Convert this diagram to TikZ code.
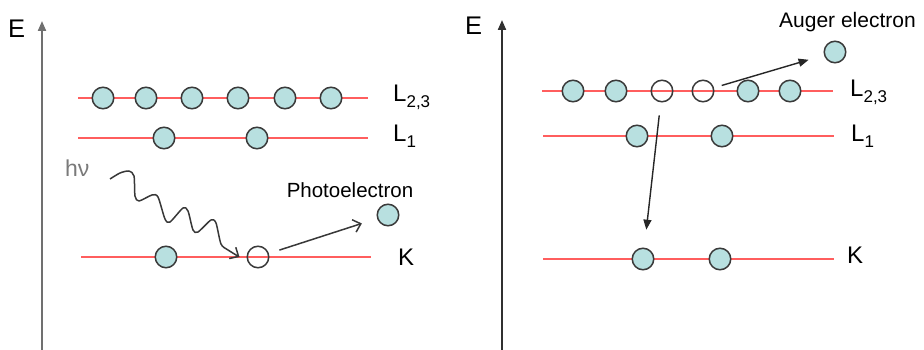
\documentclass[tikz,border=0pt]{standalone}
\usepackage{fontspec}
\setmainfont{Liberation Sans}
\usetikzlibrary{arrows.meta}
\definecolor{elec}{HTML}{B8E0E0}
\definecolor{lvl}{HTML}{FF5E5E}
\definecolor{rim}{HTML}{3A3A3A}
\definecolor{axl}{HTML}{707070}
\definecolor{axr}{HTML}{303030}
\definecolor{arrg}{HTML}{383838}
\definecolor{hvg}{HTML}{7A7A7A}
\begin{document}
\begin{tikzpicture}[x=1pt,y=-1pt,
  level/.style={draw=lvl, line width=1.9pt},
  electron/.style={circle, draw=rim, fill=elec, line width=1.5pt, minimum size=21.5pt, inner sep=0pt},
  hole/.style={circle, draw=rim, line width=1.5pt, minimum size=21.5pt, inner sep=0pt},
  axisline/.style={line width=2pt, -{Triangle[length=10pt,width=8pt]}},
  biglbl/.style={inner sep=0pt, anchor=base west, font=\fontsize{24}{28}\selectfont},
  smalllbl/.style={inner sep=0pt, font=\fontsize{20.5}{24}\selectfont},
  openarrow/.style={draw=arrg, line width=1.5pt, line join=round, -{Straight Barb[length=7pt,width=13pt,line width=1.5pt]}},
  solidarrow/.style={draw=black!85, line width=1.4pt, -{Triangle[length=10pt,width=8pt]}}
]
\newcommand{\sublbl}[2]{#1\raisebox{-0.25em}{\fontsize{17}{17}\selectfont #2}}
\useasboundingbox (0,0) rectangle (924,350);
\fill[white] (0,0) rectangle (924,350);

% ---------------- Left panel ----------------
\coordinate (axlb) at (42,352);
\coordinate (axlt) at (42,21);
\draw[axisline, draw=axl] (axlb) -- (axlt);
\node[biglbl, font=\fontsize{25.5}{28}\selectfont] (El) at (8,38) {E};

\coordinate (la1) at (78,98);  \coordinate (la2) at (368,98);
\coordinate (lb1) at (78,138); \coordinate (lb2) at (368,138);
\coordinate (lc1) at (81,257); \coordinate (lc2) at (371,257);
\draw[level] (la1) -- (la2);
\draw[level] (lb1) -- (lb2);
\draw[level] (lc1) -- (lc2);

\foreach \x [count=\i] in {103,146,192,238,285,331}
  \node[electron] (a\i) at (\x,98) {};
\node[electron] (b1) at (164,138) {};
\node[electron] (b2) at (257,138) {};
\node[electron] (c1) at (166,257) {};
\node[hole] (khole) at (258,257) {};

\node[biglbl] (L23l) at (393,102) {\sublbl{L}{2,3}};
\node[biglbl] (L1l) at (393,142) {\sublbl{L}{1}};
\node[biglbl] (Kl) at (398,265) {K};

\node[inner sep=0pt, anchor=base west, text=hvg, font=\fontsize{23}{26}\selectfont] (hv) at (65,177) {hν};
\coordinate (hvs) at (110,179);
\draw[openarrow] plot[smooth, tension=0.45] coordinates {
  (hvs) (120,173) (129,171) (134,176) (135,196) (139,201) (152,195) (158,197)
  (165,219) (170,222) (183,208) (188,211) (193,230) (198,232) (211,220)
  (216,223) (221,244) (228,250) ([xshift=-7pt]khole.west)};

\node[smalllbl, anchor=base] (pelbl) at (350,197) {Photoelectron};
\node[electron] (pe) at (388,215) {};
\draw[openarrow, shorten <=11pt, shorten >=16pt] (khole) -- (pe);

% ---------------- Right panel ----------------
\coordinate (axrb) at (502,352);
\coordinate (axrt) at (502,20);
\draw[axisline, draw=axr] (axrb) -- (axrt);
\node[biglbl, font=\fontsize{25.5}{28}\selectfont] (Er) at (465,35) {E};

\coordinate (ra1) at (542,91);  \coordinate (ra2) at (833,91);
\coordinate (rb1) at (543,136); \coordinate (rb2) at (834,136);
\coordinate (rc1) at (543,259); \coordinate (rc2) at (834,259);
\draw[level] (ra1) -- (ra2);
\draw[level] (rb1) -- (rb2);
\draw[level] (rc1) -- (rc2);

\node[electron] (ra-1) at (573,91) {};
\node[electron] (ra-2) at (616,91) {};
\node[hole] (h1) at (662,91) {};
\node[hole] (h2) at (703,91) {};
\node[electron] (ra-5) at (748,91) {};
\node[electron] (ra-6) at (790,91) {};
\node[electron] (rb-1) at (637,136) {};
\node[electron] (rb-2) at (722,136) {};
\node[electron] (rc-1) at (643,259) {};
\node[electron] (rc-2) at (720,259) {};

\node[biglbl] (L23r) at (850,97) {\sublbl{L}{2,3}};
\node[biglbl] (L1r) at (851,142) {\sublbl{L}{1}};
\node[biglbl] (Kr) at (847,263) {K};

\node[smalllbl, anchor=base west, font=\fontsize{21}{24}\selectfont] (auglbl) at (779,28) {Auger electron};
\node[electron] (ae) at (835,52) {};
\draw[solidarrow, shorten <=8pt, shorten >=16pt] (h2) -- (ae);
\draw[solidarrow, shorten <=13pt, shorten >=18pt] (h1) -- (rc-1);
\end{tikzpicture}
\end{document}
